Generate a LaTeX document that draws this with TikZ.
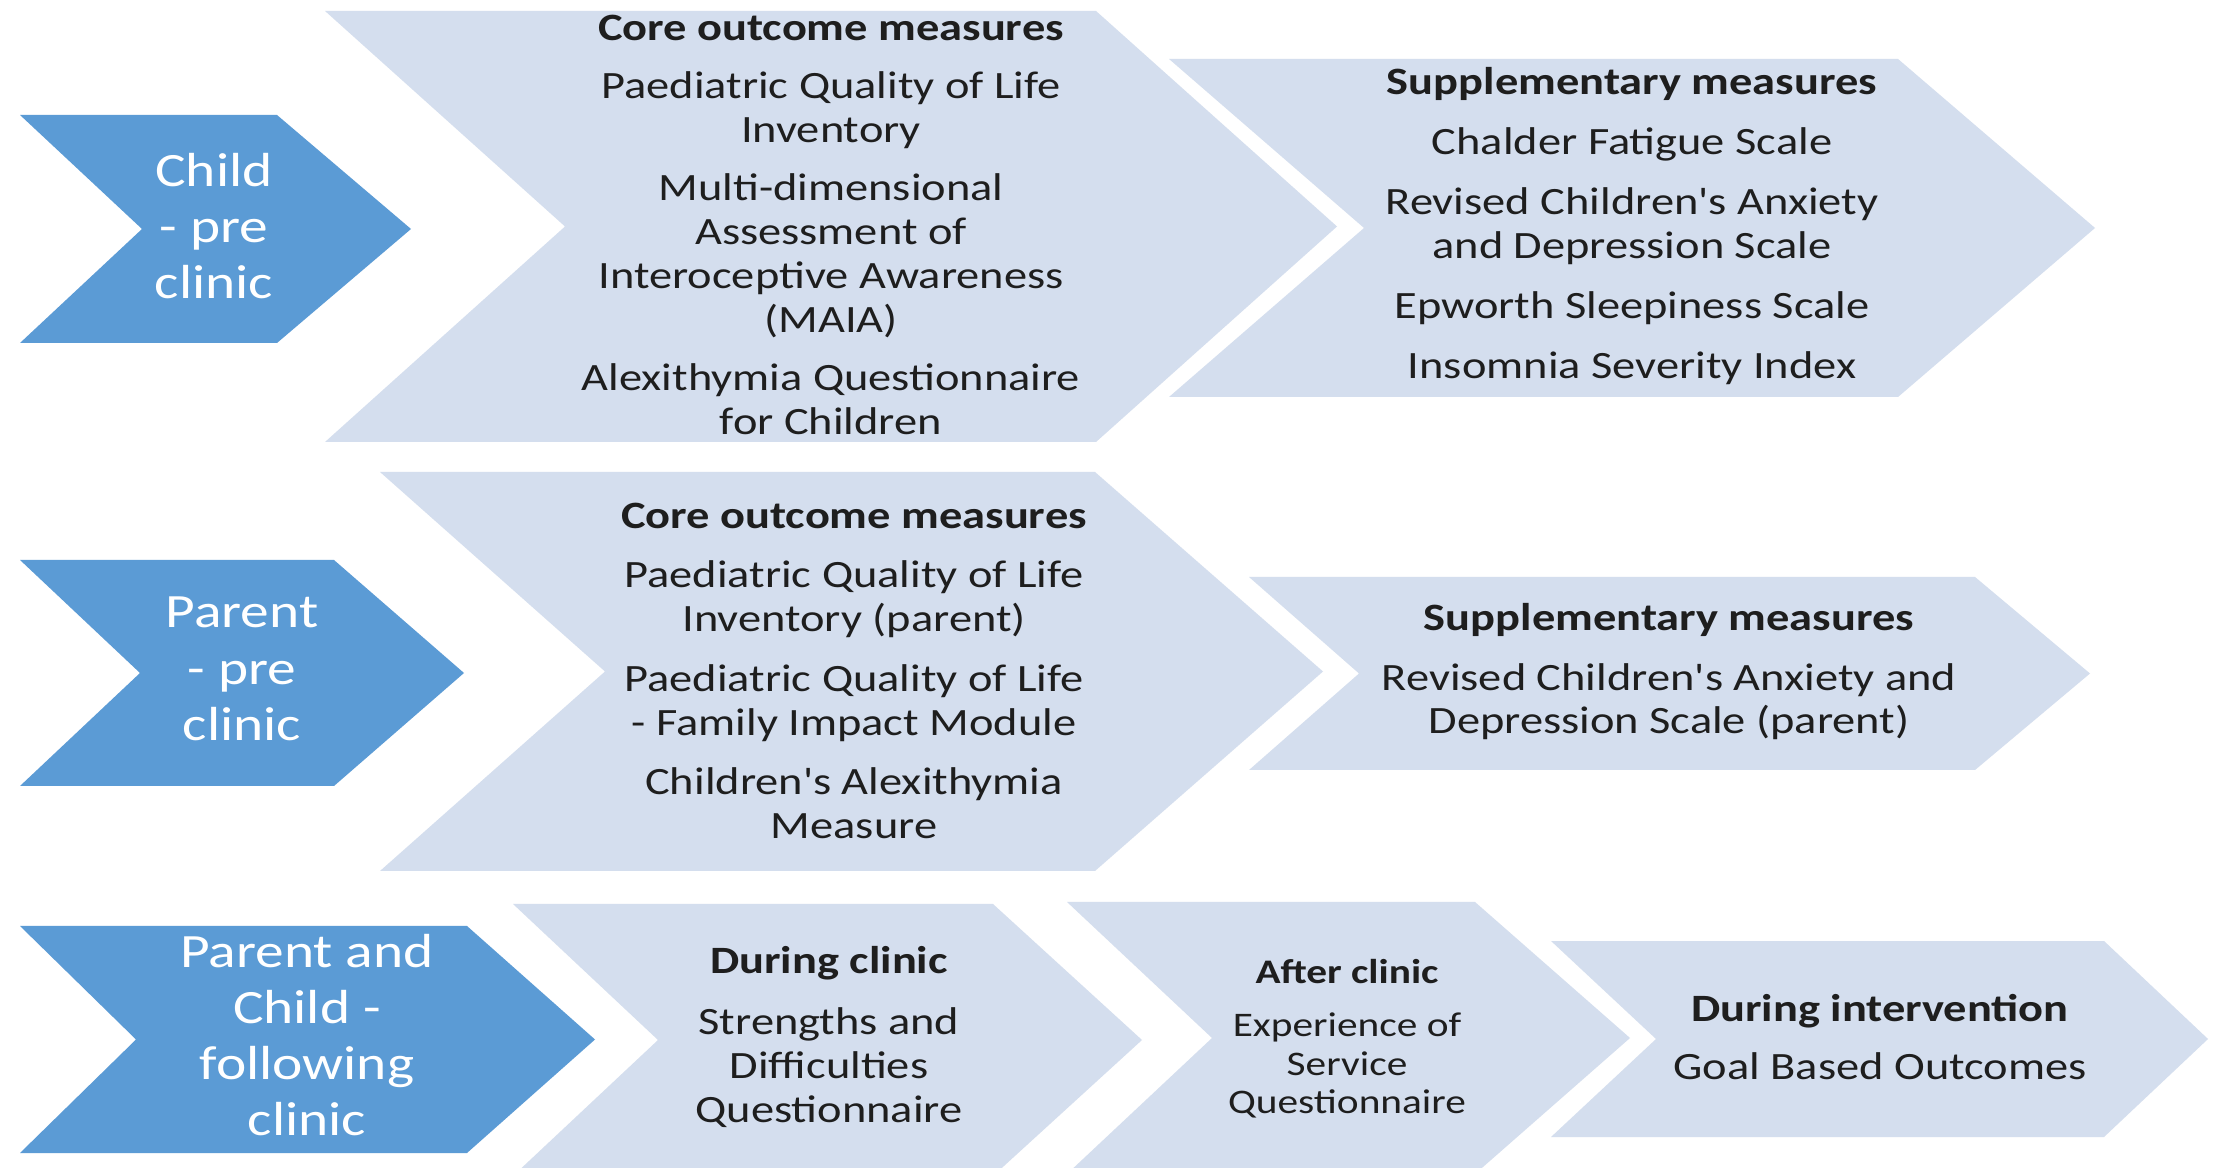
\documentclass[tikz,border=0pt]{standalone}
\usepackage{fontspec}
\setmainfont{Carlito}[FakeStretch=1.2, Ligatures=TeXOff]
\definecolor{stagedark}{RGB}{91,155,213}
\definecolor{steplight}{RGB}{212,222,238}
\definecolor{stepink}{RGB}{30,30,30}

% chevron: fill colour, left x, top y, bottom y, shoulder x, tip x, notch depth
\newcommand\chevronshape[7]{%
  \fill[#1] (#2,#3) -- (#5,#3) -- (#6,{(#3+#4)/2}) -- (#5,#4) -- (#2,#4)
    -- ({#2+#7},{(#3+#4)/2}) -- cycle;}

\tikzset{
  stagetext/.style={text=white, align=center, inner sep=0pt,
    font=\fontsize{13.6}{16}\selectfont},
  steptext/.style={text=stepink, align=center, inner sep=0pt,
    font=\fontsize{11}{12.5}\selectfont},
  smalltext/.style={text=stepink, align=center, inner sep=0pt,
    font=\fontsize{9.8}{11}\selectfont},
}

\begin{document}
\begin{tikzpicture}[x=0.01cm, y=-0.01cm]
\useasboundingbox (0,0) rectangle (2216,1168);
\clip (0,0) rectangle (2216,1168);
\fill[white] (0,0) rectangle (2216,1168);

% first row: child before clinic
\chevronshape{stagedark}{20}{115}{343}{277}{411}{122}
\chevronshape{steplight}{325}{11}{442}{1096}{1337}{240}
\chevronshape{steplight}{1169}{59}{397}{1898}{2095}{195}

\node[stagetext] (childpre) at (214,226) {Child\\- pre\\clinic};
\node[steptext] (childcore) at (831,225) {\textbf{Core outcome measures}\\[4pt]
  Paediatric Quality of Life\\Inventory\\[4pt]
  Multi-dimensional\\Assessment of\\Interoceptive Awareness\\(MAIA)\\[4pt]
  Alexithymia Questionnaire\\for Children};
\node[steptext] (childsupp) at (1632,226) {\textbf{Supplementary measures}\\[4.6pt]
  Chalder Fatigue Scale\\[4.6pt]
  Revised Children's Anxiety\\and Depression Scale\\[4.6pt]
  Epworth Sleepiness Scale\\[4.6pt]
  Insomnia Severity Index};

% second row: parent before clinic
\chevronshape{stagedark}{20}{560}{786}{334}{464}{120}
\chevronshape{steplight}{380}{472}{871}{1095}{1323}{225}
\chevronshape{steplight}{1249}{577}{770}{1975}{2090}{110}

\node[stagetext] (parentpre) at (242,669) {Parent\\- pre\\clinic};
\node[steptext] (parentcore) at (854,671) {\textbf{Core outcome measures}\\[4.4pt]
  Paediatric Quality of Life\\Inventory (parent)\\[4.4pt]
  Paediatric Quality of Life\\- Family Impact Module\\[4.4pt]
  Children's Alexithymia\\Measure};
\node[steptext] (parentsupp) at (1669,672) {\textbf{Supplementary measures}\\[4.3pt]
  Revised Children's Anxiety and\\Depression Scale (parent)};

% third row: parent and child after clinic
\chevronshape{stagedark}{20}{926}{1153}{467}{595}{116}
\chevronshape{steplight}{513}{904}{1176}{993}{1142}{145}
\chevronshape{steplight}{1067}{902}{1174}{1475}{1630}{145}
\chevronshape{steplight}{1551}{941}{1137}{2104}{2208}{105}

\node[stagetext] (bothpost) at (307,1035) {Parent and\\Child -\\following\\clinic};
\node[steptext] (duringclinic) at (829,1037) {\textbf{During clinic}\\[4.8pt]
  Strengths and\\Difficulties\\Questionnaire};
\node[smalltext] (afterclinic) at (1347,1039) {\textbf{After clinic}\\[4pt]
  Experience of\\Service\\Questionnaire};
\node[steptext] (duringinterv) at (1880,1037) {\textbf{During intervention}\\[4pt]
  Goal Based Outcomes};
\end{tikzpicture}
\end{document}
